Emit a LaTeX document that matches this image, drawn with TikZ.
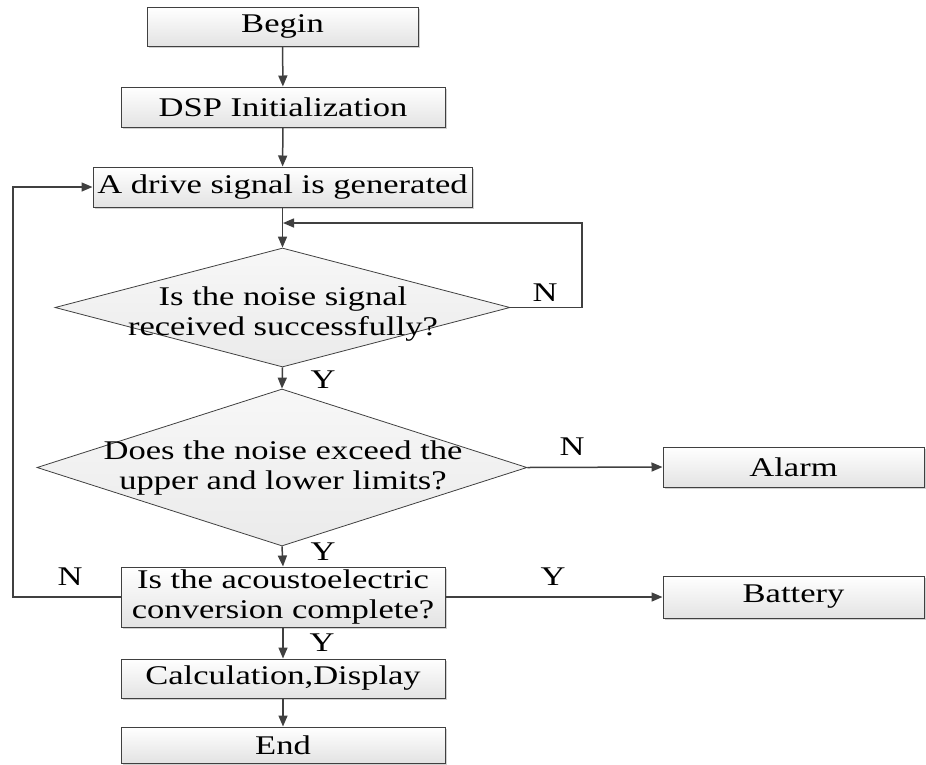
\documentclass[tikz,border=0pt]{standalone}
\usepackage{fontspec}
\setmainfont[FakeStretch=1.28]{Liberation Serif}
\usetikzlibrary{shapes.geometric,arrows.meta,shadows}
\definecolor{linegray}{HTML}{404040}

\tikzset{
  box/.style={draw=linegray, line width=1pt, top color=white, bottom color=gray!22,
    drop shadow={shadow xshift=2pt, shadow yshift=-2pt, fill=gray!60, opacity=0.6},
    inner sep=0pt, align=center},
  decision/.style={diamond, draw=linegray, line width=0.8pt, top color=gray!6,
    bottom color=gray!16, inner sep=0pt},
  flow/.style={draw=linegray, line width=1.5pt, -{Triangle[length=11pt,width=9pt]}},
  yn/.style={inner sep=0pt}
}

\begin{document}
\begin{tikzpicture}[x=1pt, y=-1pt, every node/.style={font=\fontsize{27}{30}\selectfont}]
    \useasboundingbox (0,0) rectangle (926,764);

    % Main column
    \node[box, minimum width=271pt, minimum height=39pt] (begin) at (282.5,26.5) {Begin};
    \node[box, minimum width=324pt, minimum height=40pt] (dsp) at (283,107) {DSP Initialization};
    \node[box, minimum width=379pt, minimum height=40pt] (drive) at (282.5,187) {A drive signal is generated};
    \node[decision, minimum width=455pt, minimum height=119pt] (q1) at (282.5,307.5) {};
    \node[align=center, inner sep=0pt] (q1t) at (283,314) {Is the noise signal\\received successfully?};
    \node[decision, minimum width=490pt, minimum height=157pt] (q2) at (282,467.5) {};
    \node[align=center, inner sep=0pt] (q2t) at (283,468) {Does the noise exceed the\\upper and lower limits?};
    \node[box, minimum width=324pt, minimum height=60pt] (conv) at (283,597) {Is the acoustoelectric\\conversion complete?};
    \node[box, minimum width=324pt, minimum height=39pt] (calc) at (283,678.5) {Calculation,Display};
    \node[box, minimum width=324pt, minimum height=36pt] (end) at (283,745) {End};

    % Side boxes
    \node[box, minimum width=261pt, minimum height=40pt] (alarm) at (793.5,467) {Alarm};
    \node[box, minimum width=261pt, minimum height=42pt] (battery) at (793.5,597) {Battery};

    % Arrows
    \draw[flow] (begin) -- (dsp);
    \draw[flow] (dsp) -- (drive);
    \draw[flow] (drive) -- (q1.north);
    \draw[flow] (q1.south) -- (q2.north);
    \draw[flow] (q2.south) -- (conv.north);
    \draw[flow] (conv) -- (calc);
    \draw[flow] (calc) -- (end);
    \draw[flow] (q2.east) -- (alarm.west);
    \draw[flow] (conv.east) -- (battery.west);

    % Loop back when no signal
    \coordinate (loopr) at (582,223);
    \coordinate (loopin) at (283,223);
    \draw[flow] (q1.east) -| (loopr) -- (loopin);

    % Return to drive signal
    \coordinate (fbl) at (13,597);
    \draw[flow] (conv.west) -- (fbl) |- (drive.west);

    % Y / N marks
    \node[yn] (n1) at (545,293) {N};
    \node[yn] (y1) at (323,380) {Y};
    \node[yn] (n2) at (572,447) {N};
    \node[yn] (y2) at (323,552) {Y};
    \node[yn] (n3) at (70,577) {N};
    \node[yn] (y3) at (553,577) {Y};
    \node[yn] (y4) at (322,643) {Y};
\end{tikzpicture}
\end{document}
